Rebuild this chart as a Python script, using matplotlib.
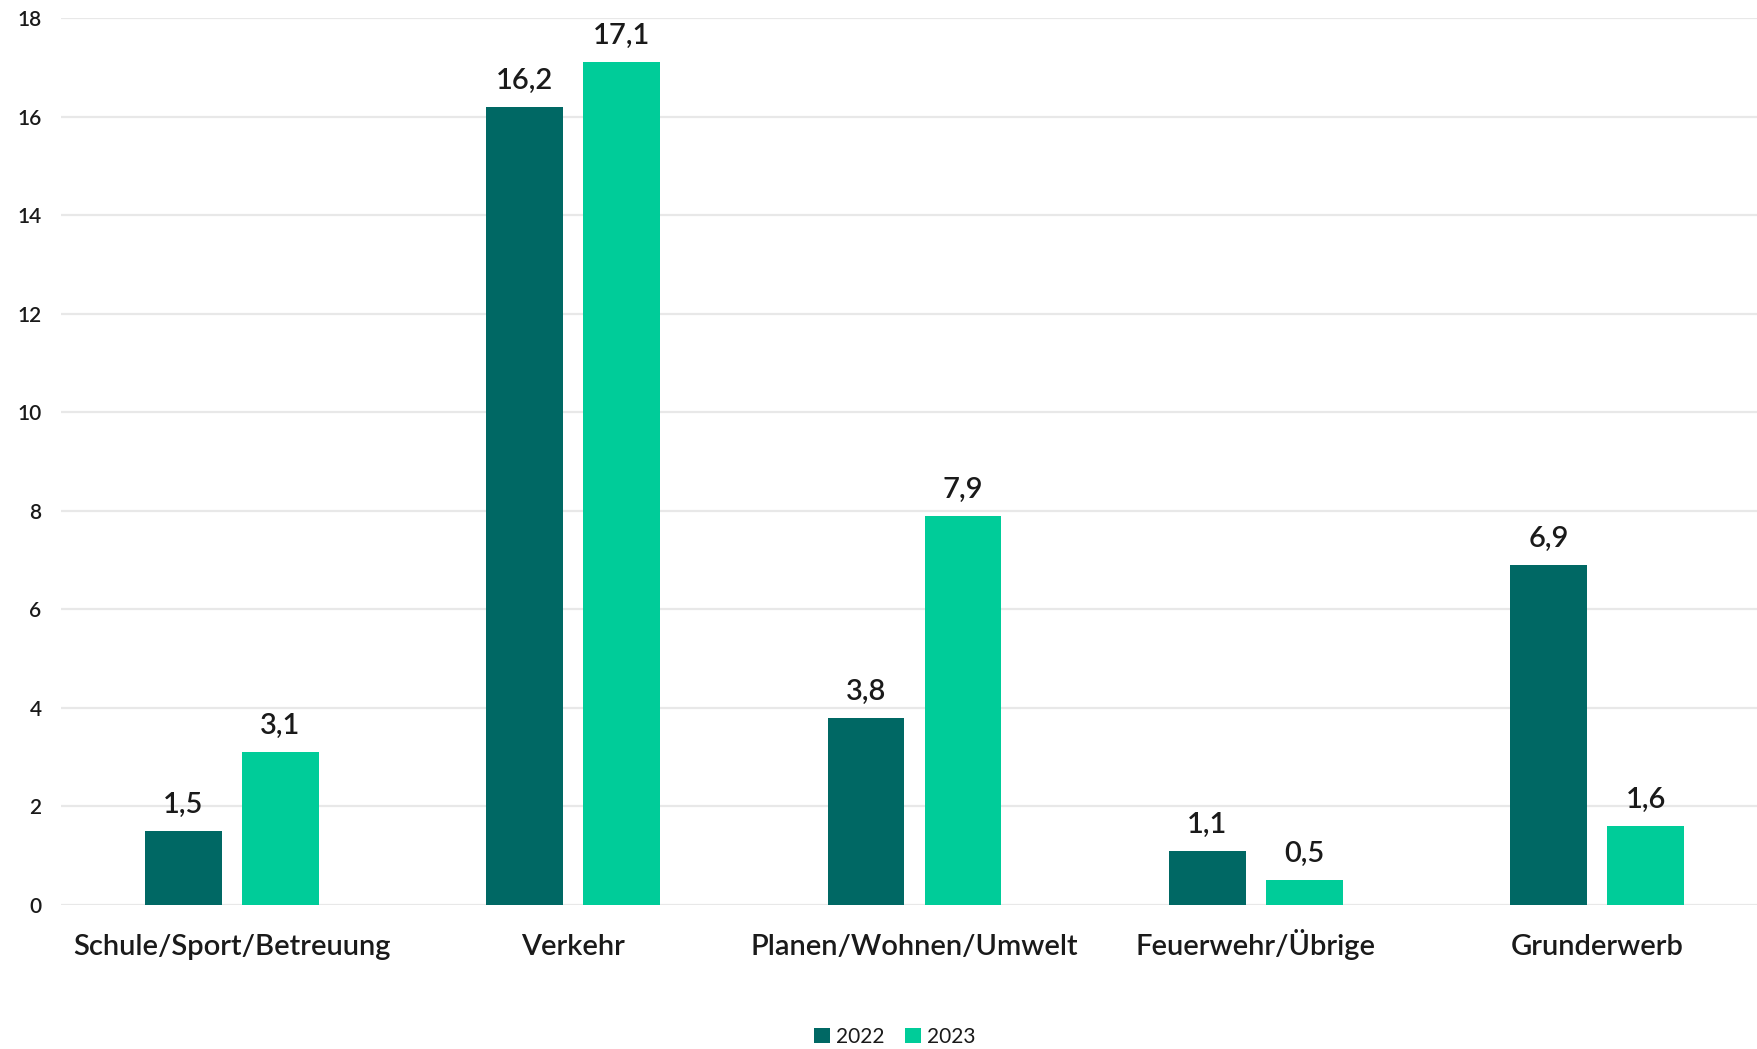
import matplotlib.pyplot as plt
import numpy as np

plt.rcParams['font.family'] = ['Lato', 'DejaVu Sans']

categories = ['Schule/Sport/Betreuung', 'Verkehr', 'Planen/Wohnen/Umwelt',
              'Feuerwehr/Übrige', 'Grunderwerb']
years = ['2022', '2023']
values_2022 = [1.5, 16.2, 3.8, 1.1, 6.9]
values_2023 = [3.1, 17.1, 7.9, 0.5, 1.6]
yticks = [0, 2, 4, 6, 8, 10, 12, 14, 16, 18]

col_dark = '#006864'
col_light = '#00CC99'
txt = '#1a1a1a'

W, H = 1758, 1049
fig = plt.figure(figsize=(W / 100, H / 100), dpi=100)
# plot area runs a little past the right edge, as in the original
ax = fig.add_axes([61 / W, 1 - 905 / H, (1768 - 61) / W, (905 - 18) / H])

x = np.arange(len(categories))
w = 0.225
off = 0.142
b1 = ax.bar(x - off, values_2022, w, color=col_dark, label=years[0], zorder=3)
b2 = ax.bar(x + off, values_2023, w, color=col_light, label=years[1], zorder=3)

for bars in (b1, b2):
    for r in bars:
        v = r.get_height()
        ax.annotate(f'{v:.1f}'.replace('.', ','),
                    (r.get_x() + r.get_width() / 2, v),
                    xytext=(0, 18), textcoords='offset pixels',
                    ha='center', va='baseline', fontsize=21,
                    fontweight='semibold', color=txt)

ax.set_xlim(-0.5, len(categories) - 0.5)
ax.set_ylim(0, 18)
ax.set_yticks(yticks)
ax.set_yticklabels([str(t) for t in yticks], fontsize=15, color=txt,
                   fontweight='semibold')
ax.set_xticks(x)
ax.set_xticklabels(categories, fontsize=21, color=txt, fontweight='semibold',
                   va='baseline')
ax.tick_params(axis='both', length=0)
ax.tick_params(axis='y', pad=14)
ax.tick_params(axis='x', pad=36)
ax.grid(axis='y', color='#e8e8e8', linewidth=1.6, zorder=0)
for s in ax.spines.values():
    s.set_visible(False)

leg = ax.legend(loc='center', bbox_to_anchor=((895 - 61) / (1768 - 61), -(1037 - 905) / (905 - 18)),
                ncol=2, frameon=False, fontsize=15, handlelength=0.75,
                handleheight=0.75, handletextpad=0.3, columnspacing=1.0,
                labelcolor=txt)

fig.savefig('out.png', dpi=100, facecolor='white')
